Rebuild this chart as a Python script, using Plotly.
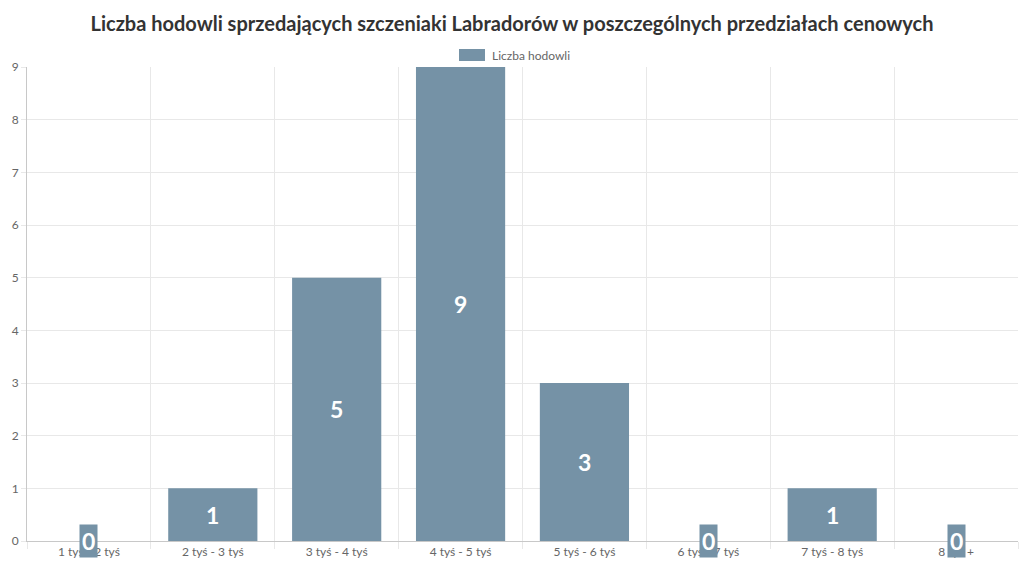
import plotly.graph_objects as go

categories = ["1 tyś - 2 tyś", "2 tyś - 3 tyś", "3 tyś - 4 tyś", "4 tyś - 5 tyś",
              "5 tyś - 6 tyś", "6 tyś - 7 tyś", "7 tyś - 8 tyś", "8 tyś +"]
counts = [0, 1, 5, 9, 3, 0, 1, 0]
series_name = "Liczba hodowli"
title_text = "Liczba hodowli sprzedających szczeniaki Labradorów w poszczególnych przedziałach cenowych"

bar_color = "#7592a6"
grid_color = "#e8e8e8"
text_gray = "#666666"

fig = go.Figure()
fig.add_trace(go.Bar(
    x=categories, y=counts, name=series_name,
    marker=dict(color=bar_color, line=dict(width=0)),
    width=0.72, hoverinfo="skip", showlegend=False,
))

for c, v in zip(categories, counts):
    if v == 0:
        fig.add_annotation(x=c, y=0, text="<b>0</b>", showarrow=False,
                           font=dict(family="Lato", size=23, color="white"),
                           bgcolor=bar_color, borderpad=2, xanchor="center", yanchor="middle")
    else:
        fig.add_annotation(x=c, y=v / 2, text=f"<b>{v}</b>", showarrow=False,
                           font=dict(family="Lato", size=23, color="white"),
                           xanchor="center", yanchor="middle")

# custom legend (wide swatch as in the reference)
L, R, T, B = 27, 1018, 67, 541
W, H = R - L, B - T
def px(x):
    return (x - L) / W
def py(y):
    return (B - y) / H

fig.add_shape(type="rect", xref="paper", yref="paper",
              x0=px(459), x1=px(485), y0=py(61), y1=py(49),
              fillcolor=bar_color, line=dict(width=0))
fig.add_annotation(xref="paper", yref="paper", x=px(490), y=py(55), text=series_name,
                   showarrow=False, xanchor="left", yanchor="middle",
                   font=dict(family="Lato", size=12, color=text_gray))

fig.update_layout(
    width=1024, height=576,
    margin=dict(l=L, r=1024 - R, t=T, b=576 - B),
    paper_bgcolor="white", plot_bgcolor="white",
    font=dict(family="Lato", size=12, color=text_gray),
    title=dict(text=f"<b>{title_text}</b>", x=0.5, xanchor="center", y=1 - 24 / 576, yanchor="middle",
               font=dict(family="Lato", size=20, color="#333333")),
    showlegend=False,
    xaxis=dict(type="category", tickson="boundaries", showgrid=True, gridcolor=grid_color,
               ticks="outside", ticklen=7, tickcolor=grid_color,
               showline=True, linecolor="#c8c8c8", linewidth=1,
               tickfont=dict(family="Lato", size=12, color=text_gray), fixedrange=True),
    yaxis=dict(range=[0, 9], dtick=1, showgrid=True, gridcolor=grid_color,
               ticks="outside", ticklen=5, tickcolor=grid_color,
               showline=True, linecolor="#c8c8c8", linewidth=1, zeroline=False,
               tickfont=dict(family="Lato", size=12, color=text_gray), fixedrange=True),
)

fig.write_html("out.html")
